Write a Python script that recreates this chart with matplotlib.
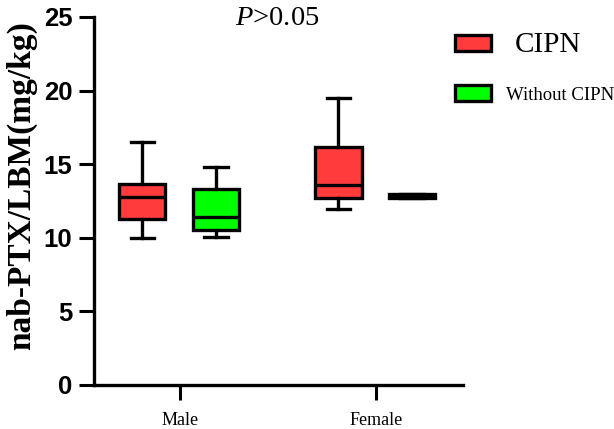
import matplotlib
matplotlib.use("Agg")
import matplotlib.pyplot as plt
from matplotlib.patches import Rectangle

# ---- data ----
groups = ["Male", "Female"]
series = ["CIPN", "Without CIPN"]
cipn_lo = [10.0, 11.95]
cipn_q1 = [11.25, 12.72]
cipn_med = [12.78, 13.58]
cipn_q3 = [13.65, 16.15]
cipn_hi = [16.53, 19.48]
wo_lo = [10.08, 12.72]
wo_q1 = [10.53, 12.72]
wo_med = [11.40, 12.86]
wo_q3 = [13.32, 13.0]
wo_hi = [14.79, 13.0]
yticks = [0, 5, 10, 15, 20, 25]
colors = ["#FF3B3B", "#00FF00"]

SERIF = "Liberation Serif"
SANS = "Liberation Sans"
plt.rcParams["mathtext.fontset"] = "custom"
plt.rcParams["mathtext.it"] = "Liberation Serif:italic"
plt.rcParams["mathtext.rm"] = "Liberation Serif"

W, H = 614, 429
fig = plt.figure(figsize=(W / 100, H / 100), dpi=100)
ax = fig.add_axes([94 / W, 1 - 385 / H, (463 - 94) / W, (385 - 17) / H])

offsets = [-0.19, 0.185]
lw = 2.4
all_stats = [
    (cipn_lo, cipn_q1, cipn_med, cipn_q3, cipn_hi),
    (wo_lo, wo_q1, wo_med, wo_q3, wo_hi),
]
for s, (lo, q1, med, q3, hi) in enumerate(all_stats):
    stats = []
    for g in range(len(groups)):
        stats.append(dict(whislo=lo[g], q1=q1[g], med=med[g], q3=q3[g],
                          whishi=hi[g], fliers=[]))
    pos = [g + offsets[s] for g in range(len(groups))]
    ax.bxp(stats, positions=pos, widths=0.235, capwidths=0.12,
           patch_artist=True, showfliers=False,
           boxprops=dict(facecolor=colors[s], edgecolor="black", linewidth=lw),
           medianprops=dict(color="black", linewidth=lw),
           whiskerprops=dict(color="black", linewidth=lw),
           capprops=dict(color="black", linewidth=lw),
           manage_ticks=False)

ax.set_xlim(-0.4365, 1.445)
ax.set_ylim(0, 25)
ax.set_yticks(yticks)
ax.set_yticklabels([str(t) for t in yticks], fontfamily=SANS,
                   fontweight="bold", fontsize=18.5)
ax.set_xticks(range(len(groups)))
ax.set_xticklabels(groups, fontfamily=SERIF, fontsize=13)
ax.tick_params(axis="y", length=10.5, width=2.2, pad=5, direction="out")
ax.tick_params(axis="x", length=10.5, width=2.2, pad=9, direction="out")
for side in ["top", "right"]:
    ax.spines[side].set_visible(False)
for side in ["left", "bottom"]:
    ax.spines[side].set_linewidth(2.4)

ax.set_ylabel("nab-PTX/LBM(mg/kg)", fontfamily=SERIF, fontweight="bold",
              fontsize=24)
ax.yaxis.set_label_coords(-0.155, 0.543)

fig.text(277 / W, 1 - 25 / H, r"$\mathit{P}$>0.05", fontfamily=SERIF,
         fontsize=20.5, ha="center", va="baseline")

# legend drawn manually
legend_rows = [(34.5, 52, 515, 21), (84.5, 99.5, 506, 13.5)]
for s, (ytop, ybase, xtext, fs) in enumerate(legend_rows):
    r = Rectangle((454.5 / W, 1 - (ytop + 16) / H), 36 / W, 16 / H,
                  transform=fig.transFigure, facecolor=colors[s],
                  edgecolor="black", linewidth=lw)
    fig.add_artist(r)
    fig.text(xtext / W, 1 - ybase / H, series[s], fontfamily=SERIF,
             fontsize=fs, ha="left", va="baseline")

fig.savefig("out.png", dpi=100)
